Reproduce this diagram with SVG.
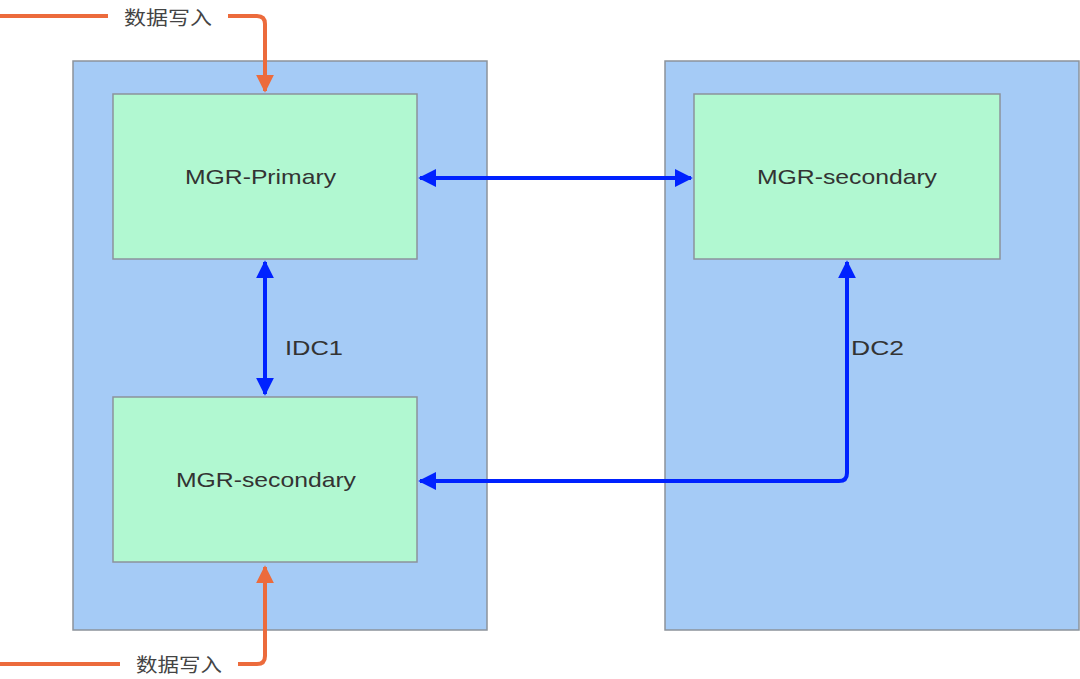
<svg xmlns="http://www.w3.org/2000/svg" width="1080" height="679" viewBox="0 0 1080 679">
<style>
.dc{fill:#a5cbf6;stroke:#8c939b;stroke-width:1.5}
.nd{fill:#b1f8d1;stroke:#8c939b;stroke-width:1.5}
.lbl{font-family:"Liberation Sans",Arial,sans-serif;font-size:21px;fill:#333;text-anchor:middle;dominant-baseline:central}
.cn{font-family:"Liberation Sans","Noto Sans CJK SC",sans-serif;font-size:19px;fill:#444;text-anchor:middle;dominant-baseline:central}
.blue{fill:none;stroke:#0022ff;stroke-width:4}
.orange{fill:none;stroke:#ec6b3c;stroke-width:4}
</style>
<defs>
<marker id="ab" viewBox="0 0 10 10" refX="9" refY="5" markerWidth="4.5" markerHeight="4.5" markerUnits="strokeWidth" orient="auto-start-reverse"><path d="M0,0 L10,5 L0,10 z" fill="#0022ff"/></marker>
<marker id="ao" viewBox="0 0 10 10" refX="9" refY="5" markerWidth="4.5" markerHeight="4.5" markerUnits="strokeWidth" orient="auto"><path d="M0,0 L10,5 L0,10 z" fill="#ec6b3c"/></marker>
</defs>
<rect width="1080" height="679" fill="#fff"/>
<g id="idc1"><rect class="dc" x="73" y="61" width="414" height="569"/></g>
<g id="dc2"><rect class="dc" x="665" y="61" width="414" height="569"/></g>
<g id="mgr-primary"><rect class="nd" x="113" y="94" width="304" height="165"/><text class="lbl" x="260.5" y="176" textLength="151" lengthAdjust="spacingAndGlyphs">MGR-Primary</text></g>
<g id="mgr-secondary-idc1"><rect class="nd" x="113" y="397" width="304" height="165"/><text class="lbl" x="266" y="479" textLength="180" lengthAdjust="spacingAndGlyphs">MGR-secondary</text></g>
<g id="mgr-secondary-dc2"><rect class="nd" x="694" y="94" width="306" height="165"/><text class="lbl" x="847" y="176" textLength="180" lengthAdjust="spacingAndGlyphs">MGR-secondary</text></g>
<g id="connectors">
<line class="blue" x1="420" y1="178" x2="691" y2="178" marker-start="url(#ab)" marker-end="url(#ab)"/>
<line class="blue" x1="265" y1="262" x2="265" y2="394" marker-start="url(#ab)" marker-end="url(#ab)"/>
<path class="blue" d="M420,481 H839 Q847,481 847,473 V262" marker-start="url(#ab)" marker-end="url(#ab)"/>
<text class="lbl" x="314" y="347" textLength="58" lengthAdjust="spacingAndGlyphs">IDC1</text>
<text class="lbl" x="877.5" y="347" textLength="53" lengthAdjust="spacingAndGlyphs">DC2</text>
<path class="orange" d="M0,16 H108"/>
<path class="orange" d="M228,16 H257 Q265,16 265,24 V91" marker-end="url(#ao)"/>
<text class="cn" x="168" y="18" textLength="88" lengthAdjust="spacingAndGlyphs">数据写入</text>
<path class="orange" d="M0,664 H120"/>
<path class="orange" d="M238,664 H257 Q265,664 265,656 V567" marker-end="url(#ao)"/>
<text class="cn" x="179" y="665" textLength="86" lengthAdjust="spacingAndGlyphs">数据写入</text>
</g>
</svg>
